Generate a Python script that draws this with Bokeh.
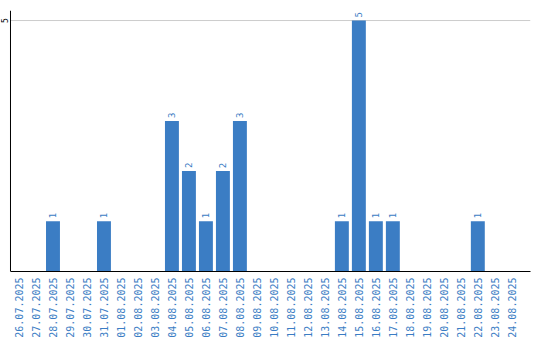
from bokeh.plotting import figure
from bokeh.models import ColumnDataSource, Range1d, FixedTicker, LabelSet
from bokeh.embed import file_html
from bokeh.resources import INLINE
from bokeh.core.properties import value

dates = ["26.07.2025", "27.07.2025", "28.07.2025", "29.07.2025", "30.07.2025",
         "31.07.2025", "01.08.2025", "02.08.2025", "03.08.2025", "04.08.2025",
         "05.08.2025", "06.08.2025", "07.08.2025", "08.08.2025", "09.08.2025",
         "10.08.2025", "11.08.2025", "12.08.2025", "13.08.2025", "14.08.2025",
         "15.08.2025", "16.08.2025", "17.08.2025", "18.08.2025", "19.08.2025",
         "20.08.2025", "21.08.2025", "22.08.2025", "23.08.2025", "24.08.2025"]
counts = [0, 0, 1, 0, 0, 1, 0, 0, 0, 3, 2, 1, 2, 3, 0, 0, 0, 0, 0, 1,
          5, 1, 1, 0, 0, 0, 0, 1, 0, 0]
y_ticks = [5]

BLUE = "#3b7dc4"
LABEL_BLUE = "#3b7dc4"

idx = [i for i, c in enumerate(counts) if c > 0]
src = ColumnDataSource(dict(x=idx, top=[counts[i] for i in idx],
                            lbl=[str(counts[i]) for i in idx]))

axis_x = -0.5                 # left edge of first category (y axis position)
x_end = len(dates) + 0.1
x_start = axis_x - 10 / 17.0  # room for the y tick label inside the frame
y_end = 5.2

p = figure(width=540, height=340, output_backend="svg", toolbar_location=None,
           x_range=Range1d(x_start, x_end), y_range=Range1d(0, y_end),
           min_border_left=0, min_border_right=10, min_border_top=10,
           min_border_bottom=0)
p.outline_line_color = None
p.background_fill_color = "white"
p.xgrid.visible = False
p.ygrid.visible = False
p.yaxis.visible = False

# horizontal grid lines starting at the y axis
p.segment(x0=[axis_x] * len(y_ticks), y0=y_ticks, x1=[x_end] * len(y_ticks),
          y1=y_ticks, line_color="#cccccc", line_width=1)

p.vbar(x="x", top="top", width=0.82, source=src, fill_color=BLUE, line_color=None)

# y axis line
p.segment(x0=[axis_x], y0=[0], x1=[axis_x], y1=[y_end], line_color="black", line_width=1)

# y tick labels
tick_src = ColumnDataSource(dict(x=[axis_x] * len(y_ticks), y=y_ticks,
                                 t=[str(t) for t in y_ticks]))
p.add_layout(LabelSet(x="x", y="y", text="t", source=tick_src, angle=1.5708,
                      x_offset=-2, text_align="center", text_baseline="bottom",
                      text_font=value("DejaVu Sans Mono"), text_font_size="8px",
                      text_color="black"))

labels = LabelSet(x="x", y="top", text="lbl", source=src, angle=1.5708,
                  text_align="left", text_baseline="middle", y_offset=3,
                  text_font=value("DejaVu Sans Mono"), text_font_size="9px",
                  text_color=LABEL_BLUE)
p.add_layout(labels)

xa = p.xaxis[0]
xa.ticker = FixedTicker(ticks=list(range(len(dates))))
xa.major_label_overrides = {i: d for i, d in enumerate(dates)}
xa.major_label_orientation = 1.5708
xa.major_label_text_font = "DejaVu Sans Mono"
xa.major_label_text_font_size = "10px"
xa.major_label_text_color = LABEL_BLUE
xa.major_tick_line_color = None
xa.major_tick_out = 0
xa.major_tick_in = 0
xa.minor_tick_line_color = None
xa.major_label_standoff = 6
xa.axis_line_color = "black"
xa.axis_line_width = 1
xa.bounds = (axis_x, x_end)

open("out.html", "w").write(file_html(p, INLINE))
